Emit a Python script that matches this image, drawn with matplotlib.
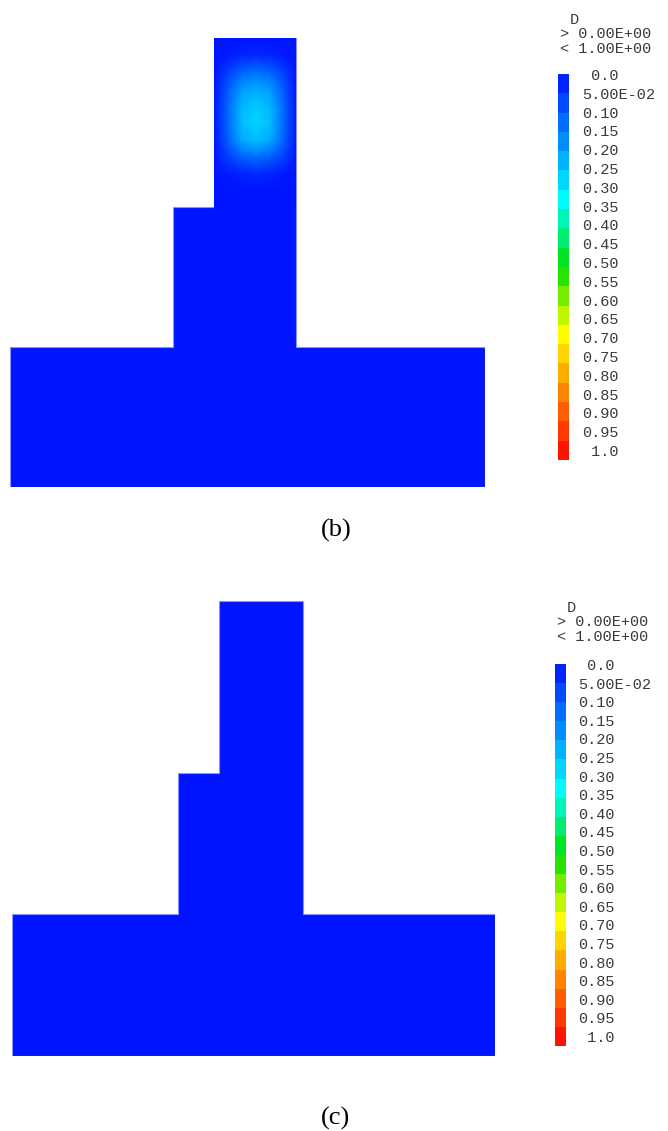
import numpy as np
import matplotlib
matplotlib.use("Agg")
from matplotlib import pyplot as plt
from matplotlib.colors import LinearSegmentedColormap, Normalize
from matplotlib.patches import Polygon

# domain outline (T shape with a step), model units
outline_x = [0, 340, 340, 205, 205, 146, 146, 117, 117, 0]
outline_y = [0, 0, 100, 100, 321, 321, 200, 200, 100, 100]

# damage D on a coarse node grid over the top column (rows bottom -> top)
col_x = [146, 156, 166, 176, 186, 196, 205]
col_y = [200, 212, 224, 236, 248, 260, 272, 285, 297, 309, 321]
damage_b = [
    [0.00, 0.00, 0.00, 0.00, 0.00, 0.00, 0.00],
    [0.00, 0.00, 0.00, 0.00, 0.00, 0.00, 0.00],
    [0.00, 0.01, 0.02, 0.03, 0.02, 0.01, 0.00],
    [0.00, 0.06, 0.11, 0.13, 0.11, 0.06, 0.00],
    [0.00, 0.11, 0.21, 0.24, 0.21, 0.11, 0.00],
    [0.00, 0.12, 0.24, 0.27, 0.24, 0.12, 0.00],
    [0.00, 0.12, 0.23, 0.26, 0.23, 0.12, 0.00],
    [0.00, 0.10, 0.19, 0.21, 0.19, 0.10, 0.00],
    [0.00, 0.06, 0.11, 0.13, 0.11, 0.06, 0.00],
    [0.00, 0.01, 0.02, 0.03, 0.02, 0.01, 0.00],
    [0.00, 0.00, 0.00, 0.00, 0.00, 0.00, 0.00],
]
damage_c = None  # undamaged state

cbar_levels = ["0.0", "5.00E-02", "0.10", "0.15", "0.20", "0.25", "0.30", "0.35",
               "0.40", "0.45", "0.50", "0.55", "0.60", "0.65", "0.70", "0.75",
               "0.80", "0.85", "0.90", "0.95", "1.0"]
header = ["D", "> 0.00E+00", "< 1.00E+00"]

W, H = 668, 1131
cmap = LinearSegmentedColormap.from_list(
    "dmg", [(0.0, "#0014ff"), (0.33, "#00ffff"), (0.5, "#00e000"),
            (0.67, "#ffff00"), (1.0, "#ff0000")])
norm = Normalize(0, 1)
mono = "Liberation Mono"
txtcol = "#3a3a3a"


def fbox(x0, y0, x1, y1):
    return [x0 / W, 1 - y1 / H, (x1 - x0) / W, (y1 - y0) / H]


def panel(fig, dom_px, damage, cb_px, lab_x, lab_y0, lab_y1, head_x, head_y, tag, tag_y):
    ax = fig.add_axes(fbox(*dom_px))
    ax.set_xlim(0, 340)
    ax.set_ylim(0, 321)
    ax.axis("off")
    poly = Polygon(np.column_stack([outline_x, outline_y]), closed=True,
                   facecolor=cmap(0.0), edgecolor="#8a94ff", linewidth=0.8)
    ax.add_patch(poly)
    if damage is not None:
        gx, gy = np.meshgrid(col_x, col_y)
        m = ax.pcolormesh(gx, gy, np.array(damage), cmap=cmap, norm=norm,
                          shading="gouraud", antialiased=False, zorder=3)
        m.set_clip_path(poly)

    # colour bar
    cax = fig.add_axes(fbox(*cb_px))
    n = len(cbar_levels) - 1
    mids = (np.arange(n) + 0.5) / n
    cax.imshow(mids[:, None], cmap=cmap, norm=norm, aspect="auto",
               interpolation="nearest")
    cax.axis("off")
    step = (lab_y1 - lab_y0) / n
    for i, s in enumerate(cbar_levels):
        txt = " " + s if len(s) == 3 else s
        fig.text(lab_x / W, 1 - (lab_y0 + i * step) / H, txt, family=mono,
                 fontsize=11, color=txtcol, va="center", ha="left")
    fig.text((head_x + 10) / W, 1 - head_y[0] / H, header[0], family=mono,
             fontsize=11, color=txtcol, va="center", ha="left")
    for k in (1, 2):
        fig.text(head_x / W, 1 - head_y[k] / H, header[k], family=mono,
                 fontsize=11, color=txtcol, va="center", ha="left")
    fig.text(336 / W, 1 - tag_y / H, tag, family="Liberation Serif",
             fontsize=19, va="center", ha="center")


fig = plt.figure(figsize=(W / 100, H / 100), dpi=100)
panel(fig, (10, 38, 485, 487), damage_b, (558, 74, 569, 460),
      582, 76, 452, 560, (20, 34, 49), "(b)", 530)
panel(fig, (12, 601, 495, 1056), damage_c, (555, 664, 566, 1046),
      578, 666, 1038, 557, (608, 622, 637), "(c)", 1118)
fig.savefig("out.png", dpi=100)
